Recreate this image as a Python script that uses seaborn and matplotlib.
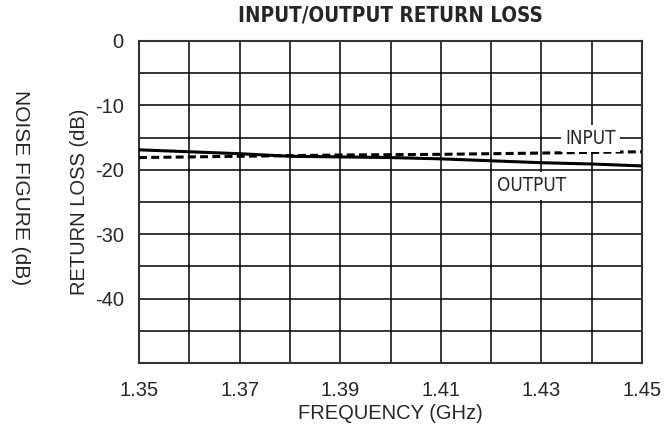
import pandas as pd
import seaborn as sns
import matplotlib.pyplot as plt
from matplotlib.ticker import MultipleLocator

# data
freq_out = [1.35, 1.36, 1.37, 1.38, 1.39, 1.40, 1.41, 1.42, 1.43, 1.44, 1.45]
rl_out = [-16.9, -17.2, -17.5, -17.9, -18.0, -18.1, -18.3, -18.6, -18.9, -19.1, -19.4]
freq_in = [1.35, 1.37, 1.39, 1.41, 1.43, 1.45]
rl_in = [-18.1, -17.9, -17.7, -17.6, -17.4, -17.2]
x_ticks = [1.35, 1.37, 1.39, 1.41, 1.43, 1.45]
y_ticks = [0, -10, -20, -30, -40]

df = pd.concat([
    pd.DataFrame({'freq': freq_out, 'rl': rl_out, 'port': 'OUTPUT'}),
    pd.DataFrame({'freq': freq_in, 'rl': rl_in, 'port': 'INPUT'}),
], ignore_index=True)

sns.set_style('white')
plt.rcParams['font.family'] = ['Liberation Sans', 'DejaVu Sans']
narrow = ['Liberation Sans Narrow', 'DejaVu Sans']

fig = plt.figure(figsize=(6.69, 4.25), dpi=100)
ax = fig.add_axes([139 / 669, 1 - 363 / 425, 503 / 669, 322 / 425])

sns.lineplot(data=df, x='freq', y='rl', hue='port', style='port',
             palette={'OUTPUT': 'black', 'INPUT': 'black'},
             dashes={'OUTPUT': '', 'INPUT': (2.6, 1.4)},
             linewidth=2.2, legend=False, ax=ax, zorder=3)

ax.set_xlim(1.35, 1.45)
ax.set_ylim(-50, 0)
ax.xaxis.set_minor_locator(MultipleLocator(0.01))
ax.yaxis.set_minor_locator(MultipleLocator(5))
ax.set_xticks(x_ticks)
ax.set_xticklabels([f'{v:.2f}' for v in x_ticks])
ax.set_yticks(y_ticks)
ax.set_yticklabels([str(v) for v in y_ticks])
ax.grid(True, which='both', color='black', linewidth=1.1)
ax.tick_params(axis='both', which='both', length=0, labelsize=14.5)
ax.tick_params(axis='x', pad=13)
ax.tick_params(axis='y', pad=11)
for s in ax.spines.values():
    s.set_color('#333333')
    s.set_linewidth(1.5)

ax.set_xlabel('FREQUENCY (GHz)', fontsize=14.5, labelpad=3)
ax.set_ylabel('RETURN LOSS (dB)', fontsize=14.5, labelpad=4)
ax.set_title('INPUT/OUTPUT RETURN LOSS', fontsize=14.8, fontweight='bold',
             family=narrow, fontstretch='condensed', pad=14)

fig.text(20 / 669, 1 - 188 / 425, 'NOISE FIGURE (dB)', rotation=-90,
         ha='center', va='center', fontsize=15)

box = dict(facecolor='white', edgecolor='none', pad=3)
ax.text(1.4397, -15.1, 'INPUT', ha='center', va='center', fontsize=13.5,
        family=narrow, fontstretch='condensed', bbox=box, zorder=4)
ax.text(1.4280, -22.5, 'OUTPUT', ha='center', va='center', fontsize=13.5,
        family=narrow, fontstretch='condensed', bbox=box, zorder=4)

fig.savefig('out.png', dpi=100)
